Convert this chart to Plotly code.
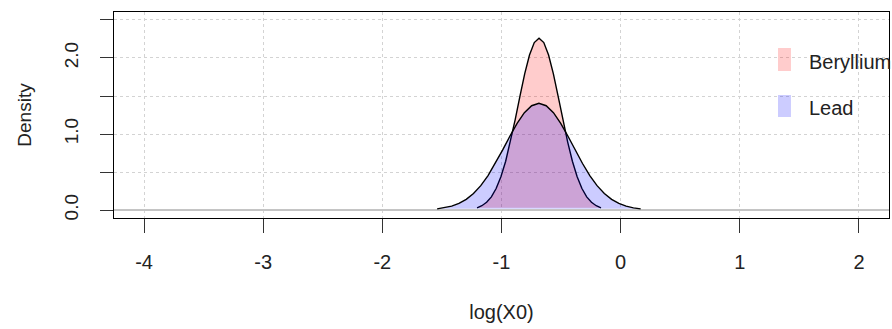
import plotly.graph_objects as go

# Density curves
beryllium_x = [-1.205, -1.165, -1.125, -1.085, -1.045, -1.005, -0.965, -0.925, -0.885,
               -0.845, -0.805, -0.765, -0.725, -0.685, -0.645, -0.605, -0.565, -0.525,
               -0.485, -0.445, -0.405, -0.365, -0.325, -0.285, -0.245, -0.205, -0.165]
beryllium_y = [0.0295, 0.0560, 0.1011, 0.1733, 0.2823, 0.4368, 0.6421, 0.8966, 1.1893,
               1.4985, 1.7936, 2.0394, 2.2027, 2.2600, 2.2027, 2.0394, 1.7936, 1.4985,
               1.1893, 0.8966, 0.6421, 0.4368, 0.2823, 0.1733, 0.1011, 0.0560, 0.0295]

lead_x = [-1.540, -1.479, -1.418, -1.357, -1.296, -1.235, -1.174, -1.113, -1.052, -0.991,
          -0.930, -0.869, -0.808, -0.747, -0.686, -0.625, -0.564, -0.503, -0.442, -0.381,
          -0.320, -0.259, -0.198, -0.137, -0.076, -0.015, 0.046, 0.107, 0.168]
lead_y = [0.0153, 0.0285, 0.0507, 0.0861, 0.1398, 0.2167, 0.3208, 0.4534, 0.6120, 0.7887,
          0.9707, 1.1408, 1.2803, 1.3720, 1.4040, 1.3720, 1.2803, 1.1408, 0.9707, 0.7887,
          0.6120, 0.4534, 0.3208, 0.2167, 0.1398, 0.0861, 0.0507, 0.0285, 0.0153]

series_names = ["Beryllium", "Lead"]
fill_colors = ["rgba(255,0,0,0.2)", "rgba(0,0,255,0.2)"]

x_ticks = [-4, -3, -2, -1, 0, 1, 2]
x_tick_text = ["-4", "-3", "-2", "-1", "0", "1", "2"]
y_ticks = [0, 0.5, 1.0, 1.5, 2.0, 2.5]
y_tick_text = ["0.0", "", "1.0", "", "2.0", ""]

FONT = "Liberation Sans, Arial, sans-serif"

fig = go.Figure()
for name, xs, ys, fc in zip(series_names, [beryllium_x, lead_x], [beryllium_y, lead_y], fill_colors):
    fig.add_trace(go.Scatter(
        x=xs, y=ys, mode="lines", name=name, fill="toself", fillcolor=fc,
        line=dict(color="black", width=1.4), showlegend=False, hoverinfo="skip"))

# manual legend (R style: filled keys without border)
legend_rows = [(0.8252, 0.7136, 0.7573), (0.5971, 0.4903, 0.534)]
for (y1, y0, yt), name, fc in zip(legend_rows, series_names, fill_colors):
    fig.add_shape(type="rect", xref="paper", yref="paper", x0=0.8568, x1=0.8735,
                  y0=y0, y1=y1, fillcolor=fc, line=dict(width=0))
    fig.add_annotation(xref="paper", yref="paper", x=0.8942, y=yt, text=name,
                       showarrow=False, xanchor="left", yanchor="middle",
                       font=dict(family=FONT, size=20, color="#222"))

fig.update_layout(
    width=892, height=329,
    margin=dict(l=114, r=3, t=12, b=111),
    paper_bgcolor="white", plot_bgcolor="white",
    showlegend=False,
    font=dict(family=FONT, color="#222"),
)
fig.update_xaxes(
    range=[-4.252, 2.252], tickvals=x_ticks, ticktext=x_tick_text,
    showgrid=True, gridcolor="#d3d3d3", griddash="dot", gridwidth=1,
    zeroline=False,
    showline=True, mirror=True, linecolor="black", linewidth=1.3,
    ticks="outside", ticklen=14, tickwidth=1.3, tickcolor="#333",
    tickfont=dict(family=FONT, size=20, color="#222"),
    ticklabelstandoff=12,
    title=dict(text="log(X0)", font=dict(family=FONT, size=20, color="#222"), standoff=32),
)
fig.update_yaxes(
    range=[-0.105, 2.605], tickvals=y_ticks, ticktext=y_tick_text,
    showgrid=True, gridcolor="#d3d3d3", griddash="dot", gridwidth=1,
    zeroline=True, zerolinecolor="#c4c4c4", zerolinewidth=2,
    showline=True, mirror=True, linecolor="black", linewidth=1.3,
    ticks="outside", ticklen=13, tickwidth=1.3, tickcolor="#333",
    tickangle=-90,
    tickfont=dict(family=FONT, size=19, color="#222"),
    ticklabelstandoff=14,
    title=dict(text="Density", font=dict(family=FONT, size=19, color="#222"), standoff=24),
)

fig.write_html("out.html")
